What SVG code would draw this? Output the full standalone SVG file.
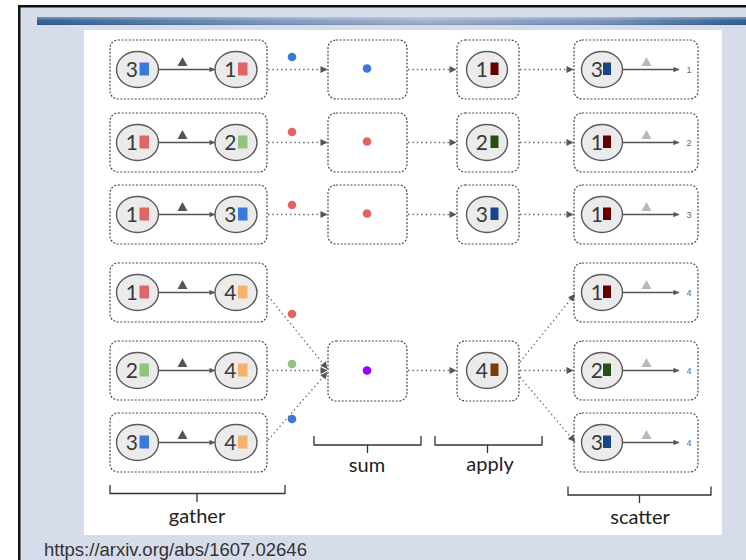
<svg xmlns="http://www.w3.org/2000/svg" width="746" height="560" viewBox="0 0 746 560">
  <defs>
    <linearGradient id="barGrad" x1="0" y1="0" x2="1" y2="0">
      <stop offset="0" stop-color="#2c5d93"/>
      <stop offset="0.35" stop-color="#7f9bc0"/>
      <stop offset="0.55" stop-color="#9db1cf"/>
      <stop offset="0.8" stop-color="#7592bb"/>
      <stop offset="1" stop-color="#2c5d93"/>
    </linearGradient>
    <linearGradient id="barShade" x1="0" y1="0" x2="0" y2="1">
      <stop offset="0" stop-color="#ffffff" stop-opacity="0.35"/>
      <stop offset="0.5" stop-color="#ffffff" stop-opacity="0"/>
      <stop offset="1" stop-color="#000000" stop-opacity="0.15"/>
    </linearGradient>
    <marker id="arr" viewBox="0 0 10 10" refX="10" refY="5" markerWidth="8" markerHeight="7" markerUnits="userSpaceOnUse" orient="auto">
      <path d="M0,0 L10,5 L0,10 z" fill="#555"/>
    </marker>
    <marker id="arrS" viewBox="0 0 10 10" refX="10" refY="5" markerWidth="8" markerHeight="5.5" markerUnits="userSpaceOnUse" orient="auto">
      <path d="M0,0 L10,5 L0,10 z" fill="#555"/>
    </marker>
  </defs>
  <style>
    .box { fill: none; stroke: #4a4a4a; stroke-width: 1.2; stroke-dasharray: 2 1.6; }
    .ell { fill: #ebebeb; stroke: #5a5a5a; stroke-width: 1.4; }
    .dig { font-family: Lato, "Liberation Sans", sans-serif; font-size: 21px; fill: #3a3a3a; text-anchor: end; }
    .edge { stroke: #555; stroke-width: 1.5; fill: none; }
    .flow { stroke: #666; stroke-width: 1.3; fill: none; stroke-dasharray: 1.4 3; }
    .brace { stroke: #333; stroke-width: 1.3; fill: none; }
    .lbl { font-family: Lato, "Liberation Sans", sans-serif; font-size: 20px; fill: #222; text-anchor: middle; }
    .small { font-family: "Liberation Sans", Arial, sans-serif; font-size: 9px; fill: #5a6a80; text-anchor: middle; }
    .triD { fill: #555; }
    .triL { fill: #b8b8b8; }
  </style>

  <!-- slide frame -->
  <rect x="0" y="0" width="746" height="560" fill="#ffffff"/>
  <rect x="19" y="6" width="727" height="554" fill="#d6dcea"/>
  <rect x="18" y="5" width="728" height="2.5" fill="#111"/>
  <rect x="18" y="5" width="2.5" height="555" fill="#111"/>
  <rect x="37" y="17" width="709" height="8" fill="url(#barGrad)"/>
  <rect x="37" y="17" width="709" height="8" fill="url(#barShade)"/>
  <rect x="84" y="30" width="638" height="505" fill="#ffffff"/>

  <!-- connectors -->
  <g id="connectors">
    <!-- gather -> sum -->
    <line class="flow" x1="268" y1="69.5" x2="327.5" y2="69.5" marker-end="url(#arr)"/>
    <line class="flow" x1="268" y1="142.5" x2="327.5" y2="142.5" marker-end="url(#arr)"/>
    <line class="flow" x1="268" y1="214.5" x2="327.5" y2="214.5" marker-end="url(#arr)"/>
    <line class="flow" x1="268" y1="296" x2="327.5" y2="369" marker-end="url(#arr)"/>
    <line class="flow" x1="268" y1="370.5" x2="327.5" y2="370.5" marker-end="url(#arr)"/>
    <line class="flow" x1="268" y1="440" x2="327.5" y2="372" marker-end="url(#arr)"/>
    <!-- sum -> apply -->
    <line class="flow" x1="408" y1="69.5" x2="456.5" y2="69.5" marker-end="url(#arr)"/>
    <line class="flow" x1="408" y1="142.5" x2="456.5" y2="142.5" marker-end="url(#arr)"/>
    <line class="flow" x1="408" y1="214.5" x2="456.5" y2="214.5" marker-end="url(#arr)"/>
    <line class="flow" x1="408" y1="370.5" x2="456.5" y2="370.5" marker-end="url(#arr)"/>
    <!-- apply -> scatter -->
    <line class="flow" x1="520" y1="69.5" x2="573.5" y2="69.5" marker-end="url(#arr)"/>
    <line class="flow" x1="520" y1="142.5" x2="573.5" y2="142.5" marker-end="url(#arr)"/>
    <line class="flow" x1="520" y1="214.5" x2="573.5" y2="214.5" marker-end="url(#arr)"/>
    <line class="flow" x1="520" y1="362" x2="575" y2="294" marker-end="url(#arr)"/>
    <line class="flow" x1="520" y1="370.5" x2="573.5" y2="370.5" marker-end="url(#arr)"/>
    <line class="flow" x1="520" y1="377" x2="575" y2="442" marker-end="url(#arr)"/>
  </g>

  <!-- messages travelling to sum -->
  <g id="messages">
    <circle cx="292" cy="57" r="4.3" fill="#3c78d8"/>
    <circle cx="292" cy="132" r="4.3" fill="#e06666"/>
    <circle cx="292" cy="205" r="4.3" fill="#e06666"/>
    <circle cx="292" cy="314" r="4.3" fill="#e06666"/>
    <circle cx="292" cy="364" r="4.3" fill="#93c47d"/>
    <circle cx="292" cy="419" r="4.3" fill="#3c78d8"/>
  </g>

  <!-- gather nodes -->
  <g id="gather1">
    <rect class="box" x="110" y="40" width="157" height="59" rx="8"/>
    <ellipse class="ell" cx="137.5" cy="69.5" rx="21" ry="18"/>
    <text class="dig" x="138" y="77">3</text><rect x="139.5" y="62.5" width="9.5" height="13" fill="#3c78d8"/>
    <line class="edge" x1="158.5" y1="69.5" x2="215" y2="69.5" marker-end="url(#arrS)"/>
    <polygon class="triD" points="177.5,66 187.5,66 182.5,57"/>
    <ellipse class="ell" cx="236" cy="69.5" rx="21" ry="18"/>
    <text class="dig" x="236.5" y="77">1</text><rect x="238" y="62.5" width="9.5" height="13" fill="#e06666"/>
  </g>
  <g id="gather2">
    <rect class="box" x="110" y="113" width="157" height="59" rx="8"/>
    <ellipse class="ell" cx="137.5" cy="142.5" rx="21" ry="18"/>
    <text class="dig" x="138" y="150">1</text><rect x="139.5" y="135.5" width="9.5" height="13" fill="#e06666"/>
    <line class="edge" x1="158.5" y1="142.5" x2="215" y2="142.5" marker-end="url(#arrS)"/>
    <polygon class="triD" points="177.5,139 187.5,139 182.5,130"/>
    <ellipse class="ell" cx="236" cy="142.5" rx="21" ry="18"/>
    <text class="dig" x="236.5" y="150">2</text><rect x="238" y="135.5" width="9.5" height="13" fill="#93c47d"/>
  </g>
  <g id="gather3">
    <rect class="box" x="110" y="185" width="157" height="59" rx="8"/>
    <ellipse class="ell" cx="137.5" cy="214.5" rx="21" ry="18"/>
    <text class="dig" x="138" y="222">1</text><rect x="139.5" y="207.5" width="9.5" height="13" fill="#e06666"/>
    <line class="edge" x1="158.5" y1="214.5" x2="215" y2="214.5" marker-end="url(#arrS)"/>
    <polygon class="triD" points="177.5,211 187.5,211 182.5,202"/>
    <ellipse class="ell" cx="236" cy="214.5" rx="21" ry="18"/>
    <text class="dig" x="236.5" y="222">3</text><rect x="238" y="207.5" width="9.5" height="13" fill="#3c78d8"/>
  </g>
  <g id="gather4">
    <rect class="box" x="110" y="263" width="157" height="59" rx="8"/>
    <ellipse class="ell" cx="137.5" cy="292.5" rx="21" ry="18"/>
    <text class="dig" x="138" y="300">1</text><rect x="139.5" y="285.5" width="9.5" height="13" fill="#e06666"/>
    <line class="edge" x1="158.5" y1="292.5" x2="215" y2="292.5" marker-end="url(#arrS)"/>
    <polygon class="triD" points="177.5,289 187.5,289 182.5,280"/>
    <ellipse class="ell" cx="236" cy="292.5" rx="21" ry="18"/>
    <text class="dig" x="236.5" y="300">4</text><rect x="238" y="285.5" width="9.5" height="13" fill="#f6b26b"/>
  </g>
  <g id="gather5">
    <rect class="box" x="110" y="341" width="157" height="59" rx="8"/>
    <ellipse class="ell" cx="137.5" cy="370.5" rx="21" ry="18"/>
    <text class="dig" x="138" y="378">2</text><rect x="139.5" y="363.5" width="9.5" height="13" fill="#93c47d"/>
    <line class="edge" x1="158.5" y1="370.5" x2="215" y2="370.5" marker-end="url(#arrS)"/>
    <polygon class="triD" points="177.5,367 187.5,367 182.5,358"/>
    <ellipse class="ell" cx="236" cy="370.5" rx="21" ry="18"/>
    <text class="dig" x="236.5" y="378">4</text><rect x="238" y="363.5" width="9.5" height="13" fill="#f6b26b"/>
  </g>
  <g id="gather6">
    <rect class="box" x="110" y="413" width="157" height="59" rx="8"/>
    <ellipse class="ell" cx="137.5" cy="442.5" rx="21" ry="18"/>
    <text class="dig" x="138" y="450">3</text><rect x="139.5" y="435.5" width="9.5" height="13" fill="#3c78d8"/>
    <line class="edge" x1="158.5" y1="442.5" x2="215" y2="442.5" marker-end="url(#arrS)"/>
    <polygon class="triD" points="177.5,439 187.5,439 182.5,430"/>
    <ellipse class="ell" cx="236" cy="442.5" rx="21" ry="18"/>
    <text class="dig" x="236.5" y="450">4</text><rect x="238" y="435.5" width="9.5" height="13" fill="#f6b26b"/>
  </g>

  <!-- sum nodes -->
  <g id="sum1">
    <rect class="box" x="328" y="40" width="79" height="59" rx="8"/>
    <circle cx="367" cy="68.5" r="4.3" fill="#3c78d8"/>
  </g>
  <g id="sum2">
    <rect class="box" x="328" y="113" width="79" height="59" rx="8"/>
    <circle cx="367" cy="141.5" r="4.3" fill="#e06666"/>
  </g>
  <g id="sum3">
    <rect class="box" x="328" y="185" width="79" height="59" rx="8"/>
    <circle cx="367" cy="213.5" r="4.3" fill="#e06666"/>
  </g>
  <g id="sum4">
    <rect class="box" x="328" y="341" width="79" height="60" rx="8"/>
    <circle cx="367" cy="370.5" r="4.3" fill="#9900ff"/>
  </g>

  <!-- apply nodes -->
  <g id="apply1">
    <rect class="box" x="457" y="40" width="62" height="59" rx="8"/>
    <ellipse class="ell" cx="487" cy="69.5" rx="20.5" ry="18"/>
    <text class="dig" x="488" y="77">1</text><rect x="490.5" y="62.5" width="8" height="12.5" fill="#660000"/>
  </g>
  <g id="apply2">
    <rect class="box" x="457" y="113" width="62" height="59" rx="8"/>
    <ellipse class="ell" cx="487" cy="142.5" rx="20.5" ry="18"/>
    <text class="dig" x="488" y="150">2</text><rect x="490.5" y="135.5" width="8" height="12.5" fill="#274e13"/>
  </g>
  <g id="apply3">
    <rect class="box" x="457" y="185" width="62" height="59" rx="8"/>
    <ellipse class="ell" cx="487" cy="214.5" rx="20.5" ry="18"/>
    <text class="dig" x="488" y="222">3</text><rect x="490.5" y="207.5" width="8" height="12.5" fill="#1c4587"/>
  </g>
  <g id="apply4">
    <rect class="box" x="457" y="341" width="62" height="60" rx="8"/>
    <ellipse class="ell" cx="487" cy="370.5" rx="20.5" ry="18"/>
    <text class="dig" x="488" y="378">4</text><rect x="490.5" y="363.5" width="8" height="12.5" fill="#783f04"/>
  </g>

  <!-- scatter nodes -->
  <g id="scatter1">
    <rect class="box" x="574" y="40" width="124" height="59" rx="8"/>
    <ellipse class="ell" cx="602" cy="69.5" rx="20.5" ry="18"/>
    <text class="dig" x="603" y="77">3</text><rect x="603" y="62.5" width="8" height="12.5" fill="#1c4587"/>
    <line class="edge" x1="622.5" y1="69.5" x2="679" y2="69.5" marker-end="url(#arrS)"/>
    <polygon class="triL" points="641.5,66 651.5,66 646.5,57"/>
    <text class="small" x="689" y="72.5">1</text>
  </g>
  <g id="scatter2">
    <rect class="box" x="574" y="113" width="124" height="59" rx="8"/>
    <ellipse class="ell" cx="602" cy="142.5" rx="20.5" ry="18"/>
    <text class="dig" x="603" y="150">1</text><rect x="603" y="135.5" width="8" height="12.5" fill="#660000"/>
    <line class="edge" x1="622.5" y1="142.5" x2="679" y2="142.5" marker-end="url(#arrS)"/>
    <polygon class="triL" points="641.5,139 651.5,139 646.5,130"/>
    <text class="small" x="689" y="145.5">2</text>
  </g>
  <g id="scatter3">
    <rect class="box" x="574" y="185" width="124" height="59" rx="8"/>
    <ellipse class="ell" cx="602" cy="214.5" rx="20.5" ry="18"/>
    <text class="dig" x="603" y="222">1</text><rect x="603" y="207.5" width="8" height="12.5" fill="#660000"/>
    <line class="edge" x1="622.5" y1="214.5" x2="679" y2="214.5" marker-end="url(#arrS)"/>
    <polygon class="triL" points="641.5,211 651.5,211 646.5,202"/>
    <text class="small" x="689" y="217.5">3</text>
  </g>
  <g id="scatter4">
    <rect class="box" x="574" y="263" width="124" height="59" rx="8"/>
    <ellipse class="ell" cx="602" cy="292.5" rx="20.5" ry="18"/>
    <text class="dig" x="603" y="300">1</text><rect x="603" y="285.5" width="8" height="12.5" fill="#660000"/>
    <line class="edge" x1="622.5" y1="292.5" x2="679" y2="292.5" marker-end="url(#arrS)"/>
    <polygon class="triL" points="641.5,289 651.5,289 646.5,280"/>
    <text class="small" x="689" y="295.5">4</text>
  </g>
  <g id="scatter5">
    <rect class="box" x="574" y="341" width="124" height="59" rx="8"/>
    <ellipse class="ell" cx="602" cy="370.5" rx="20.5" ry="18"/>
    <text class="dig" x="603" y="378">2</text><rect x="603" y="363.5" width="8" height="12.5" fill="#274e13"/>
    <line class="edge" x1="622.5" y1="370.5" x2="679" y2="370.5" marker-end="url(#arrS)"/>
    <polygon class="triL" points="641.5,367 651.5,367 646.5,358"/>
    <text class="small" x="689" y="373.5">4</text>
  </g>
  <g id="scatter6">
    <rect class="box" x="574" y="413" width="124" height="59" rx="8"/>
    <ellipse class="ell" cx="602" cy="442.5" rx="20.5" ry="18"/>
    <text class="dig" x="603" y="450">3</text><rect x="603" y="435.5" width="8" height="12.5" fill="#1c4587"/>
    <line class="edge" x1="622.5" y1="442.5" x2="679" y2="442.5" marker-end="url(#arrS)"/>
    <polygon class="triL" points="641.5,439 651.5,439 646.5,430"/>
    <text class="small" x="689" y="445.5">4</text>
  </g>

  <!-- stage braces and labels -->
  <g id="stage-labels">
    <path class="brace" d="M314,436 V445 H421 V436 M367.5,445 V453"/>
    <text class="lbl" x="367" y="472">sum</text>
    <path class="brace" d="M435,436 V445 H542 V436 M487.5,445 V453"/>
    <text class="lbl" x="490" y="471">apply</text>
    <path class="brace" d="M110,485 V493.5 H285 V485 M197,493.5 V502"/>
    <text class="lbl" x="197" y="523">gather</text>
    <path class="brace" d="M568,486.5 V495 H711 V486.5 M639.5,495 V503"/>
    <text class="lbl" x="640" y="524">scatter</text>
  </g>

  <text x="44" y="556" font-family="Liberation Sans, Arial, sans-serif" font-size="18.5" fill="#333">https://arxiv.org/abs/1607.02646</text>
</svg>
